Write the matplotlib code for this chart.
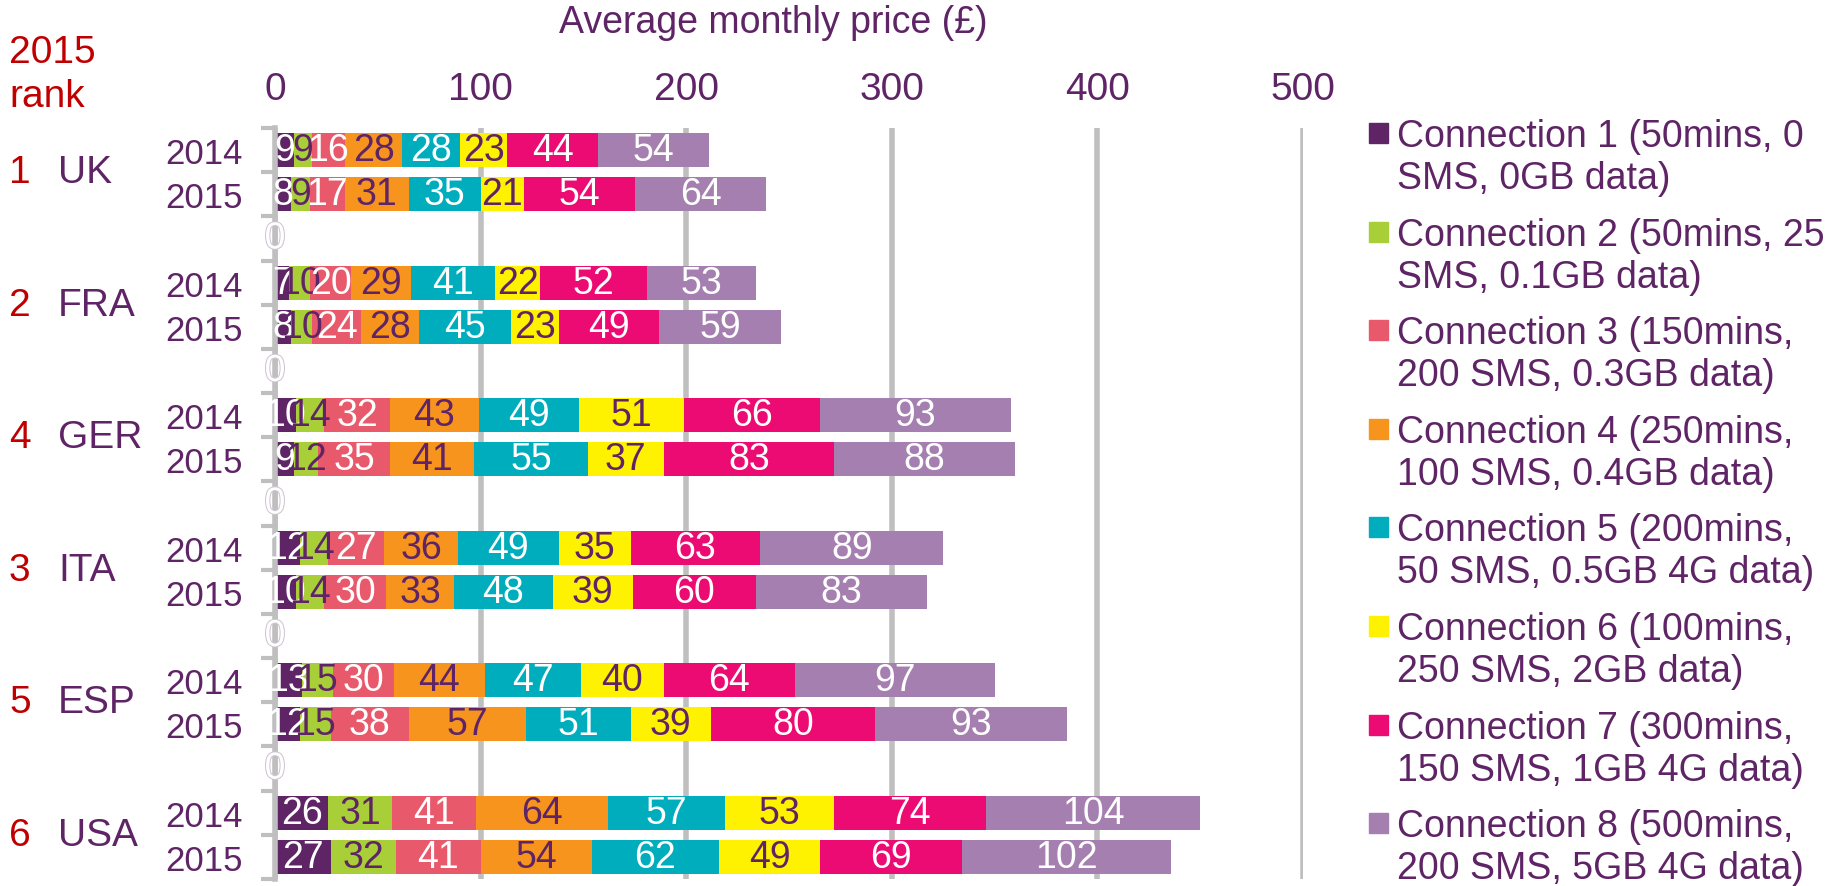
import numpy as np
import matplotlib.pyplot as plt
import matplotlib.transforms as mtransforms
import matplotlib.patheffects as pe

plt.rcParams['font.family'] = ['Liberation Sans', 'DejaVu Sans']

# data (order: UK 2014, UK 2015, FRA 2014, FRA 2015, ... USA 2015)
countries = ['UK', 'FRA', 'GER', 'ITA', 'ESP', 'USA']
ranks = ['1', '2', '4', '3', '5', '6']
years = ['2014', '2015']
conn1 = [9, 8, 7, 8, 10, 9, 12, 10, 13, 12, 26, 27]
conn2 = [9, 9, 10, 10, 14, 12, 14, 14, 15, 15, 31, 32]
conn3 = [16, 17, 20, 24, 32, 35, 27, 30, 30, 38, 41, 41]
conn4 = [28, 31, 29, 28, 43, 41, 36, 33, 44, 57, 64, 54]
conn5 = [28, 35, 41, 45, 49, 55, 49, 48, 47, 51, 57, 62]
conn6 = [23, 21, 22, 23, 51, 37, 35, 39, 40, 39, 53, 49]
conn7 = [44, 54, 52, 49, 66, 83, 63, 60, 64, 80, 74, 69]
conn8 = [54, 64, 53, 59, 93, 88, 89, 83, 97, 93, 104, 102]
spacer_value = 0
conn_names = ['Connection 1 (50mins, 0\nSMS, 0GB data)',
              'Connection 2 (50mins, 25\nSMS, 0.1GB data)',
              'Connection 3 (150mins,\n200 SMS, 0.3GB data)',
              'Connection 4 (250mins,\n100 SMS, 0.4GB data)',
              'Connection 5 (200mins,\n50 SMS, 0.5GB 4G data)',
              'Connection 6 (100mins,\n250 SMS, 2GB data)',
              'Connection 7 (300mins,\n150 SMS, 1GB 4G data)',
              'Connection 8 (500mins,\n200 SMS, 5GB 4G data)']

purple = '#5F2466'
red = '#C00000'
grey = '#BFBFBF'
colors = ['#5F2466', '#A8CF38', '#E85A6B', '#F7941D', '#00ADBD', '#FFF200', '#EC0B73', '#A57FB0']
txtcol = ['white', purple, 'white', purple, 'white', purple, 'white', 'white']

W, H = 1825, 887
fig = plt.figure(figsize=(W / 100, H / 100), dpi=100)
ax = fig.add_axes([275 / W, 1 - 880 / H, (1303 - 275) / W, (880 - 129) / H])

# row positions: two rows per country, one empty row between countries
ypos = []
spacer_rows = []
for g in range(len(countries)):
    ypos += [3 * g, 3 * g + 1]
    if g < len(countries) - 1:
        spacer_rows.append(3 * g + 2)
ypos = np.array(ypos)
nrows = 3 * len(countries) - 1

series = [conn1, conn2, conn3, conn4, conn5, conn6, conn7, conn8]
left = np.zeros(len(ypos))
containers = []
for i, vals in enumerate(series):
    vals = np.array(vals)
    c = ax.barh(ypos, vals, left=left, height=0.77, color=colors[i], zorder=2)
    containers.append(c)
    left = left + vals
for i, c in enumerate(containers):
    ax.bar_label(c, labels=[str(v) for v in series[i]], label_type='center',
                 color=txtcol[i], fontsize=27, zorder=5)

for r in spacer_rows:
    ax.text(spacer_value, r, str(spacer_value), ha='center', va='center', fontsize=27,
            color='white', zorder=5,
            path_effects=[pe.Stroke(linewidth=1.5, foreground='#CFC6D3'), pe.Normal()])

ax.set_xlim(0, 500)
ax.set_ylim(nrows - 0.5, -0.5)
ax.xaxis.tick_top()
ax.set_xticks([0, 100, 200, 300, 400, 500])
ax.tick_params(axis='x', length=0, pad=15, labelsize=28, labelcolor=purple)
ax.grid(axis='x', color=grey, lw=4, zorder=0)
ax.set_axisbelow(True)

for s in ['top', 'right', 'bottom']:
    ax.spines[s].set_visible(False)
ax.spines['left'].set_color(grey)
ax.spines['left'].set_linewidth(4)
ax.spines['left'].set_zorder(3)

ax.set_yticks(np.arange(-0.5, nrows, 1.0))
ax.set_yticklabels([])
ax.tick_params(axis='y', which='major', length=10, width=3, color=grey, direction='out')
ax.set_yticks(ypos, minor=True)
ax.set_yticklabels(years * len(countries), minor=True)
ax.tick_params(axis='y', which='minor', length=0, pad=23, labelsize=25, labelcolor=purple)

trans = mtransforms.blended_transform_factory(fig.transFigure, ax.transData)
for g, (cn, rk) in enumerate(zip(countries, ranks)):
    ax.text(9 / W, 3 * g + 0.5, rk, transform=trans, ha='left', va='center',
            fontsize=28, color=red)
    ax.text(58 / W, 3 * g + 0.5, cn, transform=trans, ha='left', va='center',
            fontsize=28, color=purple)

fig.text(9 / W, 1 - 75 / H, '2015\nrank', ha='left', va='center', fontsize=28,
         color=red, linespacing=1.3)
fig.text(773 / W, 1 - 23 / H, 'Average monthly price (£)', ha='center', va='center',
         fontsize=27, color=purple)

# legend
for i, name in enumerate(conn_names):
    yc = 134 + 98.6 * i
    fig.patches.append(plt.Rectangle((1369 / W, 1 - (yc + 10) / H), 19 / W, 20 / H,
                                     transform=fig.transFigure, color=colors[i]))
    line1, line2 = name.split('\n')
    fig.text(1397 / W, 1 - (yc + 13) / H, line1, ha='left', va='baseline',
             fontsize=27, color=purple)
    fig.text(1397 / W, 1 - (yc + 55) / H, line2, ha='left', va='baseline',
             fontsize=27, color=purple)

fig.savefig('out.png', dpi=100)
